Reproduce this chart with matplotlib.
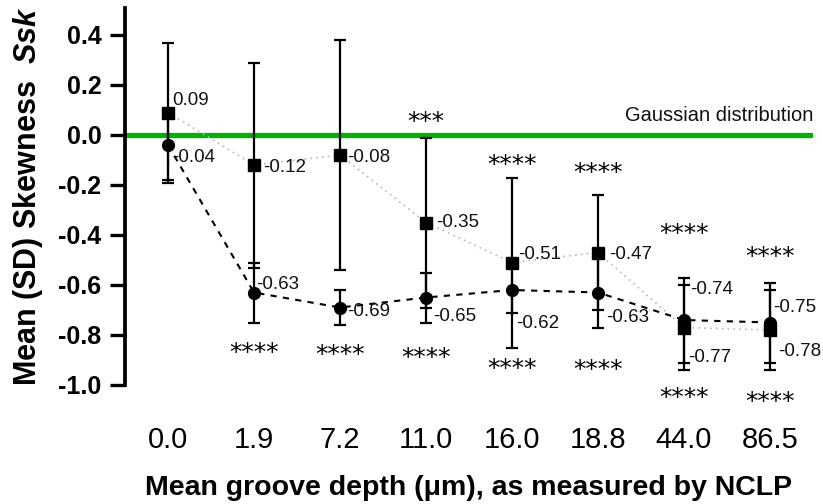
import matplotlib
matplotlib.use("Agg")
import matplotlib.pyplot as plt

# Groove depth categories (µm, NCLP)
depths = ["0.0", "1.9", "7.2", "11.0", "16.0", "18.8", "44.0", "86.5"]

# Series drawn with squares
sq_mean = [0.09, -0.12, -0.08, -0.35, -0.51, -0.47, -0.77, -0.78]
sq_sd = [0.28, 0.41, 0.46, 0.34, 0.34, 0.23, 0.17, 0.16]

# Series drawn with circles
ci_mean = [-0.04, -0.63, -0.69, -0.65, -0.62, -0.63, -0.74, -0.75]
ci_sd = [0.14, 0.12, 0.07, 0.10, 0.09, 0.14, 0.17, 0.16]

# Significance marks (above squares, below circles)
sq_stars = ["", "", "", "***", "****", "****", "****", "****"]
ci_stars = ["", "****", "****", "****", "****", "****", "****", "****"]

yticks = [0.4, 0.2, 0.0, -0.2, -0.4, -0.6, -0.8, -1.0]

# --- layout -----------------------------------------------------------
# value-label offsets from their marker, in pixels (right, up)
sq_lbl_off = [(4, 12), (9, -3), (7, -3), (10, 0), (6, 8), (11, -2), (4, -30), (8, -22)]
ci_lbl_off = [(4, -12), (2, 8), (7, -4), (7, -19), (4, -34), (8, -25), (6, 30), (3, 15)]
# vertical placement of the significance marks (data units)
sq_star_y = [None, None, None, 0.052, -0.12, -0.152, -0.396, -0.488]
ci_star_y = [None, -0.872, -0.88, -0.892, -0.936, -0.94, -1.052, -1.068]

FONT = "Liberation Sans"
plt.rcParams["font.family"] = [FONT, "DejaVu Sans"]
plt.rcParams["mathtext.fontset"] = "custom"
plt.rcParams["mathtext.bfit"] = "Liberation Sans:bold:italic"
plt.rcParams["mathtext.it"] = "Liberation Sans:italic"
plt.rcParams["mathtext.bf"] = "Liberation Sans:bold"
plt.rcParams["mathtext.rm"] = "Liberation Sans"

fig = plt.figure(figsize=(8.23, 5.04), dpi=100)
ax = fig.add_axes([125 / 823, 1 - 415 / 504, 688 / 823, 407 / 504])

x = list(range(len(depths)))

ax.axhline(0.0, color="#00b400", lw=3.8, zorder=1)
ax.text(7.5, 0.04, "Gaussian distribution", ha="right", va="bottom",
        fontsize=14.5, color="#111111")

ax.plot(x, sq_mean, linestyle=(0, (1, 2.5)), color="#b8b8b8", lw=1.2, zorder=2)
ax.plot(x, ci_mean, linestyle=(0, (3, 3)), color="black", lw=1.5, zorder=2)

ax.errorbar(x, sq_mean, yerr=sq_sd, fmt="s", color="black", ms=8.5,
            elinewidth=1.6, capsize=4, capthick=1.6, zorder=3)
ax.errorbar(x, ci_mean, yerr=ci_sd, fmt="o", color="black", ms=8.5,
            elinewidth=1.6, capsize=4, capthick=1.6, zorder=3)

for xi, v, off in zip(x, sq_mean, sq_lbl_off):
    ax.annotate(f"{v:.2f}", (xi, v), xytext=off, textcoords="offset pixels",
                ha="left", va="center", fontsize=13.5, color="#111111", zorder=4)
for xi, v, off in zip(x, ci_mean, ci_lbl_off):
    ax.annotate(f"{v:.2f}", (xi, v), xytext=off, textcoords="offset pixels",
                ha="left", va="center", fontsize=13.5, color="#111111", zorder=4)

for xi, s, yy in zip(x, sq_stars, sq_star_y):
    if s:
        ax.text(xi, yy, s, ha="center", va="center", fontsize=18,
                family="DejaVu Sans")
for xi, s, yy in zip(x, ci_stars, ci_star_y):
    if s:
        ax.text(xi, yy, s, ha="center", va="center", fontsize=18,
                family="DejaVu Sans")

ax.set_xlim(-0.5, 7.5)
ax.set_ylim(-1.12, 0.508)
ax.set_yticks(yticks)
ax.set_yticklabels([f"{t:.1f}" for t in yticks], fontsize=18, fontweight="bold")
ax.set_xticks(x)
ax.set_xticklabels(depths, fontsize=21)
ax.tick_params(axis="x", length=0, pad=8)
ax.tick_params(axis="y", length=11, width=2.4, pad=6)

for side in ("top", "right", "bottom"):
    ax.spines[side].set_visible(False)
ax.spines["left"].set_linewidth(2.7)
ax.spines["left"].set_bounds(-1.0, 0.508)

ax.set_xlabel("Mean groove depth (μm), as measured by NCLP", fontsize=20.5,
              fontweight="bold", labelpad=15)
ax.set_ylabel(r"Mean (SD) Skewness  $\mathbfit{Ssk}$", fontsize=22,
              fontweight="bold")
ax.yaxis.set_label_coords(-0.116, 0.537)

fig.savefig("out.png", dpi=100)
